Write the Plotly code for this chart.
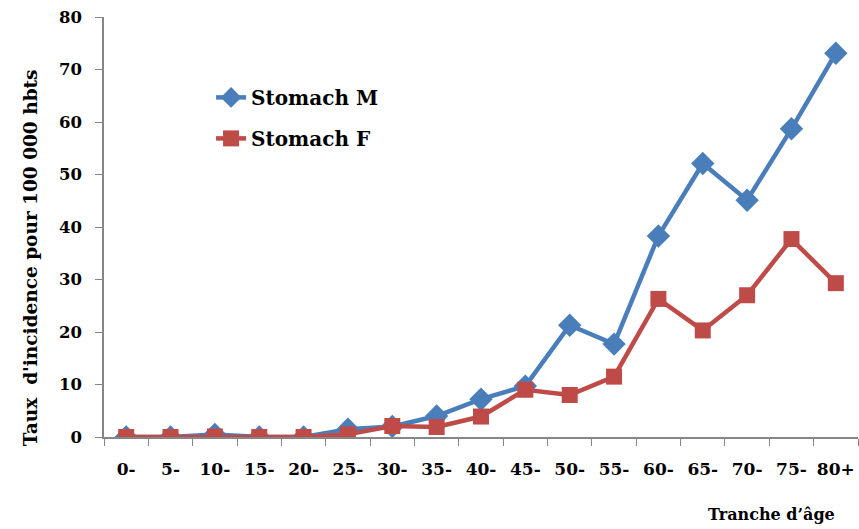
import plotly.graph_objects as go

categories = ["0-", "5-", "10-", "15-", "20-", "25-", "30-", "35-", "40-", "45-",
              "50-", "55-", "60-", "65-", "70-", "75-", "80+"]
stomach_m = [0, 0, 0.5, 0, 0, 1.5, 2.0, 4.0, 7.2, 9.7, 21.3, 17.7, 38.3, 52.1, 45.1, 58.7, 73.1]
stomach_f = [0, 0, 0.1, 0, 0, 0.5, 2.1, 1.9, 3.9, 9.0, 8.0, 11.5, 26.3, 20.3, 27.0, 37.7, 29.3]
y_ticks = [0, 10, 20, 30, 40, 50, 60, 70, 80]
y_title = "Taux  d'incidence pour 100 000 hbts"
x_title = "Tranche d\u2019\u00e2ge"

FONT = "DejaVu Serif"
BLUE = "#4a7ebb"
RED = "#be4b48"
GREY = "#868686"

fig = go.Figure()
fig.add_trace(go.Scatter(
    x=categories, y=stomach_m, name="Stomach M", mode="lines+markers",
    legendgroup="m",
    line=dict(color=BLUE, width=4.5),
    marker=dict(symbol="diamond", size=18, color=BLUE),
))
fig.add_trace(go.Scatter(
    x=categories, y=stomach_f, name="Stomach F", mode="lines+markers",
    legendgroup="f",
    line=dict(color=RED, width=4.5),
    marker=dict(symbol="square", size=16, color=RED),
))

fig.update_layout(
    width=859, height=529,
    margin=dict(l=104, r=1, t=17, b=92),
    plot_bgcolor="white", paper_bgcolor="white",
    font=dict(family=FONT, size=16, color="black"),
    showlegend=True,
    legend=dict(x=0.142, y=0.855, xanchor="left", yanchor="top",
                font=dict(family=FONT, size=20, color="black", weight="bold"),
                bgcolor="rgba(0,0,0,0)", tracegroupgap=12),
    xaxis=dict(
        type="category", tickson="boundaries", ticks="outside", ticklen=7,
        tickcolor=GREY, showline=True, linecolor=GREY, linewidth=1.5,
        showgrid=False, zeroline=False, ticklabelstandoff=16, tickangle=0,
        tickfont=dict(family=FONT, size=17, weight="bold"),
        range=[-0.5, 16.5],
    ),
    yaxis=dict(
        range=[0, 80], tickvals=y_ticks, ticks="outside", ticklen=7,
        tickcolor=GREY, showline=True, linecolor=GREY, linewidth=1.5,
        showgrid=False, zeroline=False, ticklabelstandoff=10,
        tickfont=dict(family=FONT, size=16.5, weight="bold"),
    ),
    annotations=[
        dict(text=x_title, xref="paper", yref="paper",
             x=0.885, y=-0.185, xanchor="center", yanchor="middle", showarrow=False,
             font=dict(family=FONT, size=16, weight="bold")),
        dict(text=y_title, xref="paper", yref="paper", textangle=-90,
             x=-0.098, y=0.426, xanchor="center", yanchor="middle", showarrow=False,
             font=dict(family=FONT, size=18.5, weight="bold")),
    ],
)

fig.write_html("out.html")
